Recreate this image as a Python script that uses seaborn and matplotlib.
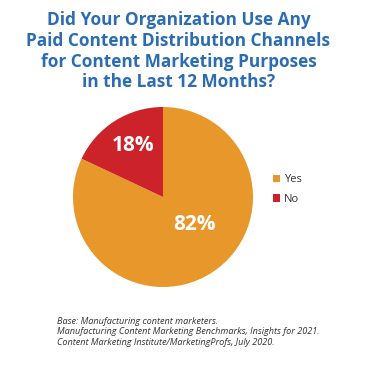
import matplotlib
matplotlib.use('Agg')
import matplotlib.pyplot as plt
import seaborn as sns

# --- Data ---
labels = ["Yes", "No"]
shares = [82, 18]
pct_text = ["82%", "18%"]
colors = ["#E8972B", "#CC2229"]

title = ("Did Your Organization Use Any\nPaid Content Distribution Channels\n"
         "for Content Marketing Purposes\nin the Last 12 Months?")
notes = ["Base: Manufacturing content marketers.",
         "Manufacturing Content Marketing Benchmarks, Insights for 2021.",
         "Content Marketing Institute/MarketingProfs, July 2020."]

sns.set_theme(style="white")
plt.rcParams['font.family'] = ['Open Sans', 'DejaVu Sans']

W, H = 368, 372
fig = plt.figure(figsize=(W / 100, H / 100), dpi=100)
fig.patch.set_facecolor("white")

# title
fig.text(0.485, 1 - 11 / H, title, ha="center", va="top", color="#2B6CB3",
         fontsize=12.4, fontweight="bold", linespacing=1.2)

# pie axes: center (163,197) px, radius 90 px
cx, cy, r = 163, 197, 90
ax = fig.add_axes([(cx - r) / W, (H - cy - r) / H, 2 * r / W, 2 * r / H])
wedges, _ = ax.pie(shares, colors=colors, startangle=90, counterclock=False,
                   wedgeprops=dict(linewidth=0))
ax.set_xlim(-1, 1)
ax.set_ylim(-1, 1)
ax.set_aspect("equal")
ax.axis("off")

# wedge labels
label_pos = [(0.35, -0.30), (-0.33, 0.57)]
for (x, y), t in zip(label_pos, pct_text):
    ax.text(x, y, t, ha="center", va="center", color="white",
            fontsize=15, fontweight="bold")

# legend
fig.legend(wedges, labels, loc="upper left", bbox_to_anchor=(263 / W, 1 - 164 / H),
           frameon=False, handlelength=0.6, handleheight=0.6, handletextpad=0.35,
           labelspacing=0.8, fontsize=8, labelcolor="#333333")

# notes
for i, n in enumerate(notes):
    fig.text(57 / W, 1 - (321 + i * 10.8) / H, n, ha="left", va="center",
             fontsize=6.6, style="italic", color="#333333")

fig.savefig("out.png", dpi=100)
